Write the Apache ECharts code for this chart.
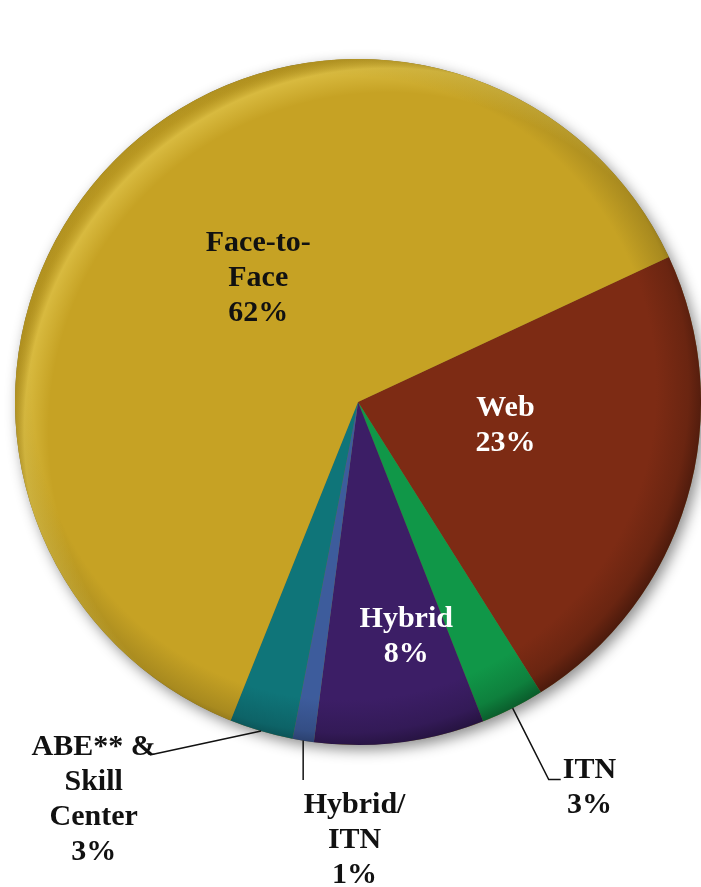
<!DOCTYPE html>
<html><head><meta charset="utf-8">
<script src="https://cdn.jsdelivr.net/npm/echarts@6/dist/echarts.min.js"></script>
<style>html,body{margin:0;padding:0;background:#fff}#c{width:701px;height:887px}</style>
</head><body><div id="c"></div>
<script>
// Data (clockwise from the Web slice)
const categories = ['Web', 'ITN', 'Hybrid', 'Hybrid/\nITN', 'ABE** &\nSkill\nCenter', 'Face-to-\nFace'];
const values = [23, 3, 8, 1, 3, 62];
const colors = ['#7D2B14', '#109748', '#3C1E66', '#3D5C9C', '#0F7579', '#C6A224'];
const textColors = ['#ffffff', '#111111', '#ffffff', '#111111', '#111111', '#111111'];

const CX = 358, CY = 402, R = 343;

function shade(hex, f) {
  const n = parseInt(hex.slice(1), 16);
  const r = Math.round(((n >> 16) & 255) * f), g = Math.round(((n >> 8) & 255) * f), b = Math.round((n & 255) * f);
  return 'rgb(' + r + ',' + g + ',' + b + ')';
}
function fill(hex) {
  return {
    type: 'radial', x: CX - 14, y: CY - 14, r: R + 20, global: true,
    colorStops: [
      { offset: 0, color: shade(hex, 1.0) },
      { offset: 0.86, color: shade(hex, 1.0) },
      { offset: 0.95, color: shade(hex, 0.85) },
      { offset: 1, color: shade(hex, 0.6) }
    ]
  };
}

const labelCfg = [
  { position: 'inside' },
  { position: 'outside', line: [80, 12] },
  { position: 'inside' },
  { position: 'outside', line: [40, 0] },
  { position: 'outside', line: [5, 110] },
  { position: 'inside' }
];

const mainData = categories.map((c, i) => ({ name: c, value: values[i], itemStyle: { color: fill(colors[i]) } }));

const labelData = categories.map((c, i) => {
  const cfg = labelCfg[i];
  const item = {
    name: c, value: values[i],
    itemStyle: { color: 'rgba(0,0,0,0)' },
    label: {
      show: true, position: cfg.position,
      formatter: p => p.name.split('\n').map(s => '{t|' + s + '}').join('\n') + '\n{t|' + p.value + '%}',
      rich: { t: { color: textColors[i], fontFamily: 'Liberation Serif', fontWeight: 'bold', fontSize: 30, lineHeight: 35, align: 'center' } }
    }
  };
  if (cfg.line) {
    item.labelLine = { show: true, length: cfg.line[0], length2: cfg.line[1], lineStyle: { color: '#111', width: 1.5 } };
    item.label.distanceToLabelLine = 2;
  } else {
    item.labelLine = { show: false };
  }
  return item;
});

function layoutAdj(p) {
  const pts = p.labelLinePoints;
  switch (p.dataIndex) {
    case 0: return { dx: -20, dy: -26 };
    case 2: return { dx: 27, dy: 62 };
    case 5: return { dx: 27, dy: -4 };
    case 1: return { dy: 8, labelLinePoints: pts };
    case 3: return { align: 'left', verticalAlign: 'top', dx: 9, dy: 8,
      labelLinePoints: [pts[0], [pts[0][0], pts[pts.length - 1][1]]] };
    case 4: return { verticalAlign: 'top', dx: 8, dy: -6,
      labelLinePoints: [pts[0], [pts[pts.length - 1][0], pts[0][1] + 24]] };
  }
  return {};
}

const chart = echarts.init(document.getElementById('c'), null, { renderer: 'canvas' });
chart.setOption({
  animation: false,
  backgroundColor: '#ffffff',
  series: [
    {
      type: 'pie', silent: true, center: [CX, CY], radius: R, z: 1,
      label: { show: false }, labelLine: { show: false },
      itemStyle: { color: '#7a6a30', shadowBlur: 14, shadowOffsetX: 4, shadowOffsetY: 5, shadowColor: 'rgba(0,0,0,0.45)' },
      data: [{ value: 1 }]
    },
    {
      type: 'pie', silent: true, center: [CX, CY], radius: R, z: 2,
      startAngle: 25, clockwise: true,
      label: { show: false }, labelLine: { show: false },
      data: mainData
    },
    {
      // rim highlight on the upper-left edge
      type: 'pie', silent: true, center: [CX, CY], radius: R, z: 3,
      label: { show: false }, labelLine: { show: false },
      itemStyle: {
        color: {
          type: 'radial', x: CX + 30, y: CY + 30, r: R + 34, global: true,
          colorStops: [
            { offset: 0, color: 'rgba(255,236,120,0)' },
            { offset: 0.9, color: 'rgba(255,236,120,0)' },
            { offset: 0.965, color: 'rgba(255,236,120,0.32)' },
            { offset: 1, color: 'rgba(120,100,20,0.15)' }
          ]
        }
      },
      data: [{ value: 1 }]
    },
    {
      type: 'pie', silent: true, center: [CX, CY], radius: R, z: 4,
      startAngle: 25, clockwise: true, avoidLabelOverlap: false,
      labelLayout: layoutAdj,
      data: labelData
    }
  ]
});
</script></body></html>
